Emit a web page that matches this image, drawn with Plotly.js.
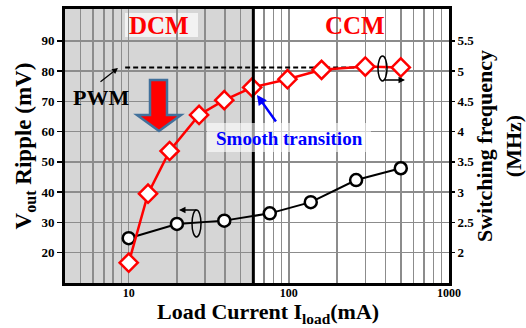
<!DOCTYPE html>
<html>
<head>
<meta charset="utf-8">
<script src="https://cdn.plot.ly/plotly-3.0.1.min.js"></script>
<style>html,body{margin:0;padding:0;background:#fff;}#chart{width:526px;height:328px;}</style>
</head>
<body>
<div id="chart"></div>
<script>
// ---- data ----
var loadFreq = [10, 13.2, 18, 27.5, 39.5, 59, 98, 160, 300, 500];      // mA
var switchFreq = [1.835, 2.975, 3.68, 4.275, 4.52, 4.73, 4.865, 5.02, 5.075, 5.06]; // MHz
var loadRipple = [10, 20, 39.5, 76, 137, 263, 500];                    // mA
var ripple = [24.8, 29.5, 30.6, 33.0, 36.7, 44.0, 47.9];               // mV
var pwmLoad = [9.5, 300];
var pwmFreq = [5.06, 5.06];
var boundaryLoad = 60;   // DCM / CCM boundary (mA)
var leftTicks = [20, 30, 40, 50, 60, 70, 80, 90];
var rightTicks = [2, 2.5, 3, 3.5, 4, 4.5, 5, 5.5];
var rightTickText = ['2', '2.5', '3', '3.5', '4', '4.5', '5', '5.5'];

var serif = 'Liberation Serif';
var L = 65, R = 449, T = 9, B = 283;
function px(x){ return (x - L) / (R - L); }
function py(y){ return 1 - (y - T) / (B - T); }

var traces = [
  { x: pwmLoad, y: pwmFreq, yaxis: 'y2', mode: 'lines', hoverinfo: 'skip',
    line: { color: '#000', width: 2, dash: '5px,3px' } },
  { x: loadRipple, y: ripple, yaxis: 'y', mode: 'lines+markers',
    line: { color: '#000', width: 2 },
    marker: { symbol: 'circle', size: 12, color: '#fff', line: { color: '#000', width: 2.5 } } },
  { x: loadFreq, y: switchFreq, yaxis: 'y2', mode: 'lines+markers',
    line: { color: '#ff0000', width: 2.5 },
    marker: { symbol: 'diamond', size: 14, color: '#fff', line: { color: '#ff0000', width: 2.5 } } }
];

var arrowPath = 'M' + px(150) + ',' + py(80) + ' L' + px(167) + ',' + py(80) + ' L' + px(167) + ',' + py(115) +
  ' L' + px(181) + ',' + py(115) + ' L' + px(159) + ',' + py(131) + ' L' + px(137) + ',' + py(115) +
  ' L' + px(150) + ',' + py(115) + ' Z';

function note(x, y, text, size, color) {
  return { xref: 'paper', yref: 'paper', x: px(x), y: py(y), xanchor: 'center', yanchor: 'middle',
    text: text, showarrow: false, font: { family: serif, size: size, color: color, weight: 'bold' } };
}
function arrow(x, y, ax, ay, width, color, size) {
  return { xref: 'paper', yref: 'paper', x: px(x), y: py(y), text: '', showarrow: true,
    ax: ax, ay: ay, arrowhead: 2, arrowsize: size, arrowwidth: width, arrowcolor: color };
}

var layout = {
  width: 526, height: 328,
  margin: { l: L, r: 526 - R, t: T, b: 328 - B },
  paper_bgcolor: '#fff', plot_bgcolor: '#fff',
  showlegend: false,
  font: { family: serif, color: '#000' },
  xaxis: {
    type: 'log', range: [Math.log10(4), 3], dtick: 1, exponentformat: 'none',
    showgrid: true, gridcolor: '#8c8c8c', gridwidth: 1.5,
    minor: { dtick: 'D1', showgrid: true, gridcolor: '#8c8c8c', gridwidth: 1.5 },
    showline: true, mirror: true, linecolor: '#000', linewidth: 3,
    ticks: '', zeroline: false, ticklabelstandoff: -3,
    tickfont: { family: serif, size: 12, weight: 'bold' }
  },
  yaxis: {
    range: [10, 100.5], tickvals: leftTicks,
    showgrid: true, gridcolor: '#8c8c8c', gridwidth: 1.5,
    showline: true, mirror: true, linecolor: '#000', linewidth: 3,
    ticks: 'outside', ticklen: 5, tickwidth: 1.5, tickcolor: '#000', zeroline: false,
    tickfont: { family: serif, size: 13, weight: 'bold' },
    title: { text: 'V<sub>out</sub> Ripple (mV)', font: { family: serif, size: 23, weight: 'bold' }, standoff: 4 }
  },
  yaxis2: {
    overlaying: 'y', side: 'right', range: [1.5, 6.025],
    tickvals: rightTicks, ticktext: rightTickText,
    showgrid: false, zeroline: false, showline: false,
    ticks: 'outside', ticklen: 5, tickwidth: 1.5, tickcolor: '#000',
    tickfont: { family: serif, size: 13, weight: 'bold' },
    title: { text: 'Switching frequency<br>(MHz)', font: { family: serif, size: 22, weight: 'bold' }, standoff: 4 }
  },
  shapes: [
    { type: 'rect', xref: 'x', yref: 'paper', x0: 4, x1: boundaryLoad, y0: 0, y1: 1,
      fillcolor: '#d6d6d6', line: { width: 0 }, layer: 'below' },
    { type: 'line', xref: 'x', yref: 'paper', x0: boundaryLoad, x1: boundaryLoad, y0: 0, y1: 1,
      line: { color: '#000', width: 3 } },
    { type: 'rect', xref: 'paper', yref: 'paper', x0: px(125), x1: px(198), y0: py(37), y1: py(13),
      fillcolor: '#f2f2f2', line: { width: 0 }, layer: 'between' },
    { type: 'rect', xref: 'paper', yref: 'paper', x0: px(207), x1: px(371), y0: py(152), y1: py(123),
      fillcolor: 'rgba(255,255,255,0.6)', line: { width: 0 }, layer: 'above' },
    { type: 'path', xref: 'paper', yref: 'paper', path: arrowPath,
      fillcolor: '#ff0000', line: { color: '#41719c', width: 2.5 } },
    { type: 'circle', xref: 'paper', yref: 'paper', x0: px(192), x1: px(201), y0: py(237), y1: py(210),
      line: { color: '#000', width: 1.5 } },
    { type: 'circle', xref: 'paper', yref: 'paper', x0: px(378), x1: px(387), y0: py(81), y1: py(56),
      line: { color: '#000', width: 1.5 } }
  ],
  annotations: [
    note(159, 25, 'DCM', 25, '#ff0000'),
    note(355, 25, 'CCM', 25, '#ff0000'),
    note(101, 97, 'PWM', 22, '#000'),
    arrow(118, 68, -19, 15, 1.2, '#000', 1),
    note(289, 138, 'Smooth transition', 19, '#0000ff'),
    arrow(257, 95, 20, 28, 2.5, '#0000ff', 0.8),
    arrow(179, 210, 19, 0, 1.3, '#000', 1),
    arrow(405, 80, -22, 0, 1.3, '#000', 1),
    note(268, 313, 'Load Current I<sub>load</sub>(mA)', 22, '#000')
  ]
};

Plotly.newPlot('chart', traces, layout, { staticPlot: true, displayModeBar: false });
</script>
</body>
</html>
